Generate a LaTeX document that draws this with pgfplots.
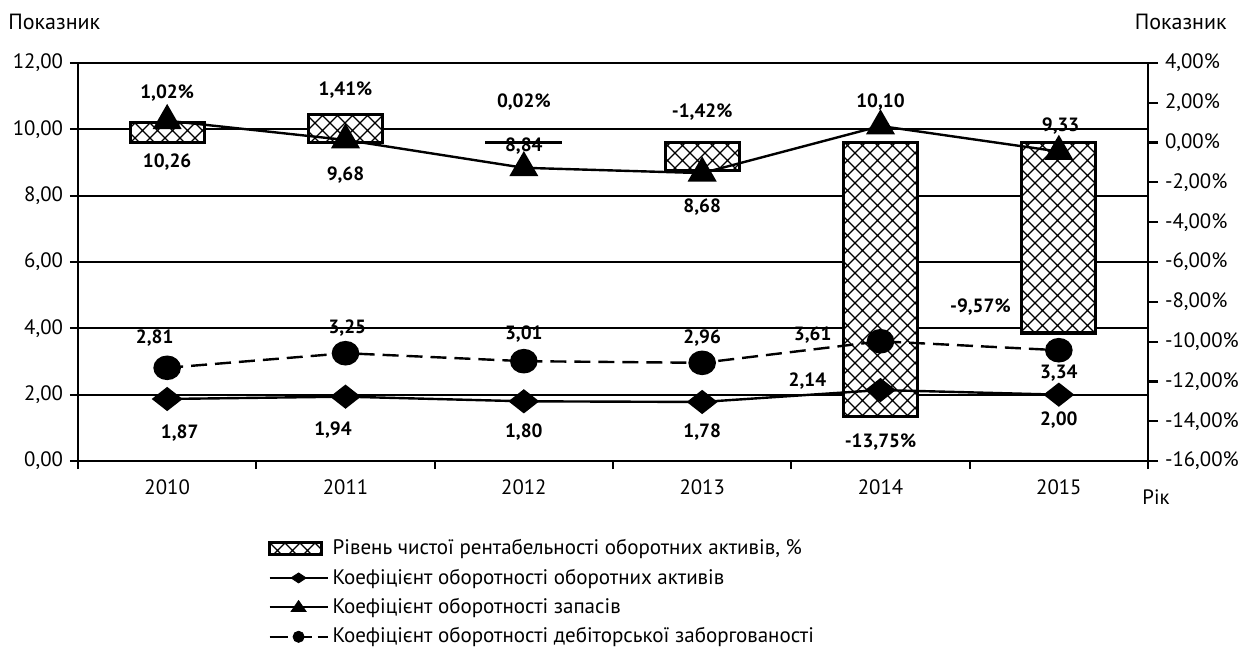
\documentclass[border=0pt]{standalone}
\usepackage{fontspec}
\setmainfont{PT Sans}
\usepackage{pgfplots}
\pgfplotsset{compat=1.18}
\usetikzlibrary{patterns.meta}
\tikzdeclarepattern{
  name=xhatch,
  type=uncolored,
  bottom left={(-0.1pt,-0.1pt)},
  top right={(7.6pt,7.6pt)},
  tile size={(7.5pt,7.5pt)},
  code={
    \draw[line width=0.55pt] (0,0) -- (7.5pt,7.5pt) (0,7.5pt) -- (7.5pt,0);
  }
}
\begin{document}
\fontsize{10pt}{12pt}\selectfont
\begin{tikzpicture}
\path[use as bounding box] (-39pt,-93.5pt) rectangle (581.5pt,230.5pt);
\pgfplotsset{
  common/.style={
    scale only axis, width=535pt, height=199pt,
    xmin=-0.5, xmax=5.5,
    at={(0,0)}, anchor=south west,
    tick label style={font=\fontsize{10.4pt}{12pt}\selectfont},
  }
}
% axis 1: left axis with grid
\begin{axis}[common,
  ymin=0, ymax=12,
  axis x line*=bottom, axis y line*=left,
  axis line style={-, line width=1.1pt},
  ytick={0,2,...,12},
  yticklabels={{0,00},{2,00},{4,00},{6,00},{8,00},{10,00},{12,00}},
  ymajorgrids, grid style={black, line width=0.9pt},
  xtick={0,...,5}, xticklabels={2010,2011,2012,2013,2014,2015},
  major x tick style={draw=none},
  minor xtick={-0.5,0.5,1.5,2.5,3.5,4.5,5.5},
  minor x tick style={black, line width=1.1pt},
  tick align=outside,
  major tick length=4pt, minor tick length=4pt,
  ytick style={black, line width=1.1pt},
  xticklabel style={yshift=-2pt},
]
\addplot[draw=none, forget plot] coordinates {(0,0)};
\end{axis}
% axis 2: right axis with bars
\begin{axis}[common,
  ymin=-16, ymax=4,
  axis x line=none, axis y line*=right,
  axis line style={-, line width=1.1pt},
  ytick={-16,-14,...,4},
  yticklabels={{-16,00\%},{-14,00\%},{-12,00\%},{-10,00\%},{-8,00\%},{-6,00\%},{-4,00\%},{-2,00\%},{0,00\%},{2,00\%},{4,00\%}},
  tick align=outside, major tick length=5pt,
  ytick style={black, line width=1.1pt},
  ybar, bar width=37pt,
]
\addplot[ybar, bar shift=0pt, draw=black, line width=1.6pt,
  preaction={fill=white}, pattern=xhatch, pattern color=black]
  coordinates {(0,1.02) (1,1.41) (2,0.02) (3,-1.42) (4,-13.75) (5,-9.57)};
\end{axis}
% axis 3: lines
\begin{axis}[common,
  ymin=0, ymax=12, hide axis, clip=false,
  legend style={at={(0,0)}, anchor=north west, xshift=95pt, yshift=-37pt,
    draw=none, fill=none, row sep=1.6pt,
    font=\fontsize{10.5pt}{12.2pt}\selectfont, cells={anchor=west},
    inner sep=0pt},
  legend cell align=left,
]
% receivables (dashed, circles)
\addplot[forget plot, black, line width=1.2pt, dash pattern=on 8pt off 4pt,
  mark=*, mark size=6.3pt, mark options={solid, yscale=0.88}]
  coordinates {(0,2.81) (1,3.25) (2,3.01) (3,2.96) (4,3.61) (5,3.34)};
% current assets turnover (diamonds)
\addplot[forget plot, black, line width=1.2pt,
  mark=diamond*, mark size=5.3pt, mark options={xscale=1.7}]
  coordinates {(0,1.87) (1,1.94) (2,1.80) (3,1.78) (4,2.14) (5,2.00)};
% inventory turnover (triangles)
\addplot[forget plot, black, line width=1.2pt,
  mark=triangle*, mark size=7.2pt]
  coordinates {(0,10.26) (1,9.68) (2,8.84) (3,8.68) (4,10.10) (5,9.33)};

\addlegendimage{legend image code/.code={
  \draw[line width=1.2pt, preaction={fill=white}, pattern=xhatch, pattern color=black]
   (0pt,-3pt) rectangle (26pt,3pt);}}
\addlegendentry{Рівень чистої рентабельності оборотних активів, \%}
\addlegendimage{legend image code/.code={
  \draw[black, line width=1.1pt] (0pt,0pt) -- (29pt,0pt);
  \fill[black] (14.5pt,0pt) +(0,2.5pt) -- +(3.8pt,0) -- +(0,-2.5pt) -- +(-3.8pt,0) -- cycle;}}
\addlegendentry{Коефіцієнт оборотності оборотних активів}
\addlegendimage{legend image code/.code={
  \draw[black, line width=1.1pt] (0pt,0pt) -- (29pt,0pt);
  \fill[black] (14.5pt,3.4pt) -- (18.2pt,-2pt) -- (10.8pt,-2pt) -- cycle;}}
\addlegendentry{Коефіцієнт оборотності запасів}
\addlegendimage{legend image code/.code={
  \draw[black, line width=1.1pt, dash pattern=on 9pt off 3pt] (0pt,0pt) -- (29pt,0pt);
  \fill[black] (14.5pt,0pt) circle (2.8pt);}}
\addlegendentry{Коефіцієнт оборотності дебіторської заборгованості}

\begin{scope}[every node/.style={font=\bfseries\fontsize{9.6pt}{11.4pt}\selectfont}]
\node at (axis cs:0,11.09) {1,02\%};
\node at (axis cs:0,9.01) {10,26};
\node at (axis cs:1,11.18) {1,41\%};
\node at (axis cs:1,8.62) {9,68};
\node at (axis cs:2,10.82) {0,02\%};
\node at (axis cs:2,9.50) {8,84};
\node at (axis cs:3,10.52) {-1,42\%};
\node at (axis cs:3,7.66) {8,68};
\node at (axis cs:4,10.82) {10,10};
\node at (axis cs:4,0.57) {-13,75\%};
\node at (axis cs:5.01,10.10) {9,33};
\node at (axis cs:4.56,4.64) {-9,57\%};
\node at (axis cs:-0.07,3.71) {2,81};
\node at (axis cs:1.01,4.01) {3,25};
\node at (axis cs:2,3.83) {3,01};
\node at (axis cs:3,3.71) {2,96};
\node at (axis cs:3.62,3.80) {3,61};
\node at (axis cs:5,2.65) {3,34};
\node at (axis cs:0.07,0.84) {1,87};
\node at (axis cs:0.93,0.93) {1,94};
\node at (axis cs:2,0.87) {1,80};
\node at (axis cs:3,0.87) {1,78};
\node at (axis cs:3.59,2.41) {2,14};
\node at (axis cs:5,1.24) {2,00};
\end{scope}
\node[anchor=west, inner sep=0pt, font=\fontsize{11pt}{13pt}\selectfont] at ([xshift=-35pt,yshift=20.5pt]rel axis cs:0,1) {Показник};
\node[anchor=east, inner sep=0pt, font=\fontsize{11pt}{13pt}\selectfont] at ([xshift=39.5pt,yshift=20.5pt]rel axis cs:1,1) {Показник};
\node[anchor=west, inner sep=0pt, font=\fontsize{10.4pt}{12pt}\selectfont] at ([xshift=-3pt,yshift=-18pt]rel axis cs:1,0) {Рік};
\end{axis}
\end{tikzpicture}
\end{document}
